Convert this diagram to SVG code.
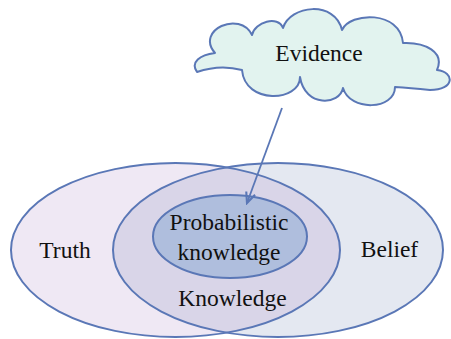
<svg xmlns="http://www.w3.org/2000/svg" width="451" height="339" viewBox="0 0 451 339">
<style>
.lbl{font-family:"Liberation Serif","Times New Roman",serif;font-size:23.5px;fill:#111;text-anchor:middle}
.ol{fill:none;stroke:#5a77b6;stroke-width:2}
</style>
<defs>
<clipPath id="clipTruth"><ellipse cx="175.5" cy="250" rx="164.5" ry="87"/></clipPath>
<marker id="arr" markerUnits="userSpaceOnUse" markerWidth="14" markerHeight="14" refX="10" refY="5" orient="auto" viewBox="0 0 12 10">
<path d="M1,1 L10,5 L1,9" fill="none" stroke="#5a77b6" stroke-width="1.8"/>
</marker>
</defs>
<rect width="451" height="339" fill="#ffffff"/>
<g id="truth">
<ellipse cx="175.5" cy="250" rx="164.5" ry="87" fill="#efe8f4"/>
</g>
<g id="belief">
<ellipse cx="278" cy="250" rx="165" ry="87" fill="#e4e8f1"/>
</g>
<g id="knowledge">
<ellipse cx="278" cy="250" rx="165" ry="87" fill="#d9d5e8" clip-path="url(#clipTruth)"/>
<ellipse class="ol" cx="175.5" cy="250" rx="164.5" ry="87"/>
<ellipse class="ol" cx="278" cy="250" rx="165" ry="87"/>
<text class="lbl" x="232.5" y="306">Knowledge</text>
</g>
<g id="truth-label"><text class="lbl" x="65" y="258">Truth</text></g>
<g id="belief-label"><text class="lbl" x="389.5" y="257">Belief</text></g>
<g id="probabilistic">
<ellipse cx="230" cy="236.5" rx="77" ry="41.5" fill="#afbedd" stroke="#5a77b6" stroke-width="2"/>
<text class="lbl" x="229" y="230">Probabilistic</text>
<text class="lbl" x="229" y="260">knowledge</text>
</g>
<g id="evidence">
<path d="M197,72 C190,62 200,55 215,53 C195,30 240,10 252,35 C255,22 278,15 283,28 C290,5 335,0 342,30 C350,12 400,10 403,43 C425,42 445,52 437,70 C455,72 455,90 430,90 Q410,88 395,87 C395,110 350,112 343,88 C340,105 305,108 300,77 C300,102 245,105 242,70 Q220,64 197,72 Z" fill="#e2f3ef" stroke="#5a77b6" stroke-width="2" stroke-linejoin="round"/>
<text class="lbl" x="319" y="61">Evidence</text>
</g>
<g id="connectors">
<line x1="282" y1="108" x2="247" y2="203" stroke="#5a77b6" stroke-width="1.8" marker-end="url(#arr)"/>
</g>
</svg>
